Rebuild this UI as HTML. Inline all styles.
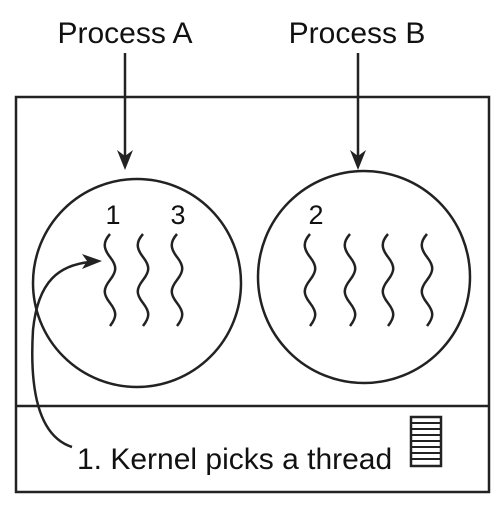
<!DOCTYPE html>
<html><head><style>body{margin:0;background:#fff}</style></head><body>
<svg width="495" height="505" viewBox="0 0 495 505" xmlns="http://www.w3.org/2000/svg" font-family="Liberation Sans, sans-serif" fill="none" stroke="#222">
<defs>
<path id="w" d="M0,0 c-7,8 -7,14 0,23 c7,9 7,14 0,23 c-7,9 -7,14 0,23 c7,9 7,14 0,23" stroke-width="2.5"/>
</defs>
<text x="125" y="43" font-size="30" fill="#111" stroke="none" text-anchor="middle">Process A</text>
<text x="357" y="43" font-size="30" fill="#111" stroke="none" text-anchor="middle">Process B</text>
<line x1="125" y1="53" x2="125" y2="160" stroke-width="2.5"/>
<path d="M117,150 L125,170 L133,150 L125,156Z" fill="#222" stroke="none"/>
<line x1="358" y1="53" x2="358" y2="160" stroke-width="2.5"/>
<path d="M350,150 L358,170 L366,150 L358,156Z" fill="#222" stroke="none"/>
<rect x="16" y="97" width="473" height="395" stroke-width="2.5"/>
<line x1="16" y1="406" x2="489" y2="406" stroke-width="2.5"/>
<circle cx="137" cy="283" r="104" stroke-width="2.5"/>
<circle cx="364" cy="277" r="106" stroke-width="2.5"/>
<text x="113" y="224" font-size="27" fill="#111" stroke="none" text-anchor="middle">1</text>
<text x="178" y="224" font-size="27" fill="#111" stroke="none" text-anchor="middle">3</text>
<text x="316" y="224" font-size="27" fill="#111" stroke="none" text-anchor="middle">2</text>
<use href="#w" x="110" y="234"/><use href="#w" x="143" y="234"/><use href="#w" x="177" y="234"/>
<use href="#w" x="310" y="234"/><use href="#w" x="350" y="234"/><use href="#w" x="388" y="234"/><use href="#w" x="427" y="234"/>
<path d="M72,447 C35,435 30,380 33,330 C38,280 60,265 90,262" stroke-width="2.5"/>
<path d="M82,254 L102,261 L82,269 L87,261Z" fill="#222" stroke="none"/>
<text x="77" y="469" font-size="30" fill="#111" stroke="none">1. Kernel picks a thread</text>
<rect x="411" y="417" width="30" height="49" stroke-width="2.5"/>
<g stroke-width="2"><line x1="411" y1="423" x2="441" y2="423"/><line x1="411" y1="429" x2="441" y2="429"/><line x1="411" y1="435" x2="441" y2="435"/><line x1="411" y1="441" x2="441" y2="441"/><line x1="411" y1="447" x2="441" y2="447"/><line x1="411" y1="453" x2="441" y2="453"/><line x1="411" y1="459" x2="441" y2="459"/></g>
</svg>
</body></html>
